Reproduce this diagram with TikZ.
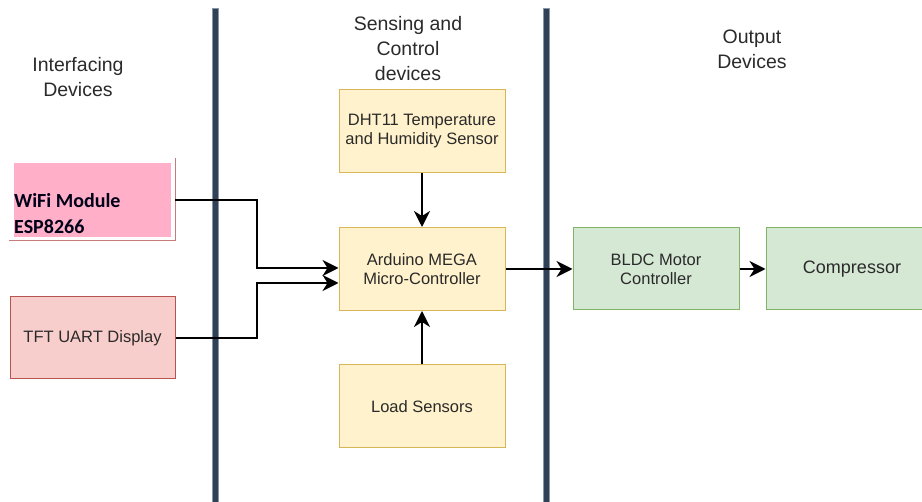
\documentclass[tikz,border=0pt]{standalone}
\usepackage{fontspec}
\setmainfont{Liberation Sans}
\newfontfamily\carlito{Carlito}
\usetikzlibrary{arrows.meta}
\definecolor{barcol}{HTML}{2F4156}
\definecolor{baredge}{HTML}{8A95A3}
\definecolor{wifipink}{HTML}{FFB0C8}
\definecolor{wifiedge}{HTML}{C9797A}
\definecolor{redfill}{HTML}{F8CECC}
\definecolor{redline}{HTML}{B85450}
\definecolor{yelfill}{HTML}{FFF2CC}
\definecolor{yelline}{HTML}{D6B656}
\definecolor{grnfill}{HTML}{D5E8D4}
\definecolor{grnline}{HTML}{82B366}
\definecolor{txt}{HTML}{2A2A2A}
\tikzset{
  box/.style={draw, line width=1pt, inner sep=0pt, align=center, text=txt,
    font=\fontsize{16.5}{19}\selectfont},
  yelbox/.style={box, fill=yelfill, draw=yelline, minimum width=166pt, minimum height=83pt},
  grnbox/.style={box, fill=grnfill, draw=grnline, minimum height=82pt},
  heading/.style={align=center, text=txt, font=\fontsize{19.5}{25}\selectfont, inner sep=0pt},
  conn/.style={line width=2pt, -{Stealth[length=16pt, width=16pt, inset=5pt]}},
  bar/.style={fill=barcol, draw=baredge, line width=0.8pt}
}
\begin{document}
\begin{tikzpicture}[x=1pt, y=-1pt]
\useasboundingbox (0,0) rectangle (922,502);
\begin{scope}
\clip (0,0) rectangle (922,502);
% vertical bars
\fill[bar] (212.5,8) rectangle (218.5,503);
\fill[bar] (543,8) rectangle (549,503);
% headings
\node[heading] (h1) at (78,77) {Interfacing\\Devices};
\node[heading] (h2) at (408,49) {Sensing and\\Control\\devices};
\node[heading] (h3) at (752,49) {Output\\Devices};
% wifi box
\fill[wifipink] (14,163) rectangle (171,237);
\draw[wifiedge, line width=1pt] (175,158) -- (175,241) -- (9,241);
\node[anchor=west, align=left, inner sep=0pt, text=black!90!blue, font=\carlito\bfseries\fontsize{20}{26}\selectfont] (wifi) at (14,214) {WiFi Module\\ESP8266};
\coordinate (wifiout) at (175,200);
% TFT box
\node[box, fill=redfill, draw=redline, minimum width=165pt, minimum height=82pt] (tft) at (92.5,338) {TFT UART Display};
% yellow boxes
\node[yelbox] (dht) at (422,131.5) {DHT11 Temperature\\and Humidity Sensor};
\node[yelbox] (ard) at (422,269) {Arduino MEGA\\Micro-Controller};
\node[yelbox] (load) at (422,406.5) {Load Sensors};
% green boxes
\node[grnbox, minimum width=166pt] (bldc) at (656,269) {BLDC Motor\\Controller};
\node[grnbox, minimum width=172pt, font=\fontsize{18}{20}\selectfont] (comp) at (852,269) {Compressor};
% connectors
\draw[conn] (wifiout) -| (257,268) -- (ard.west |- 0,268);
\draw[conn] (tft.east) -| (257,283) -- (ard.west |- 0,283);
\draw[conn] (dht) -- (ard);
\draw[conn] (load) -- (ard);
\draw[conn] (ard) -- (bldc);
\draw[conn] (bldc) -- (comp);
\end{scope}
\end{tikzpicture}
\end{document}
